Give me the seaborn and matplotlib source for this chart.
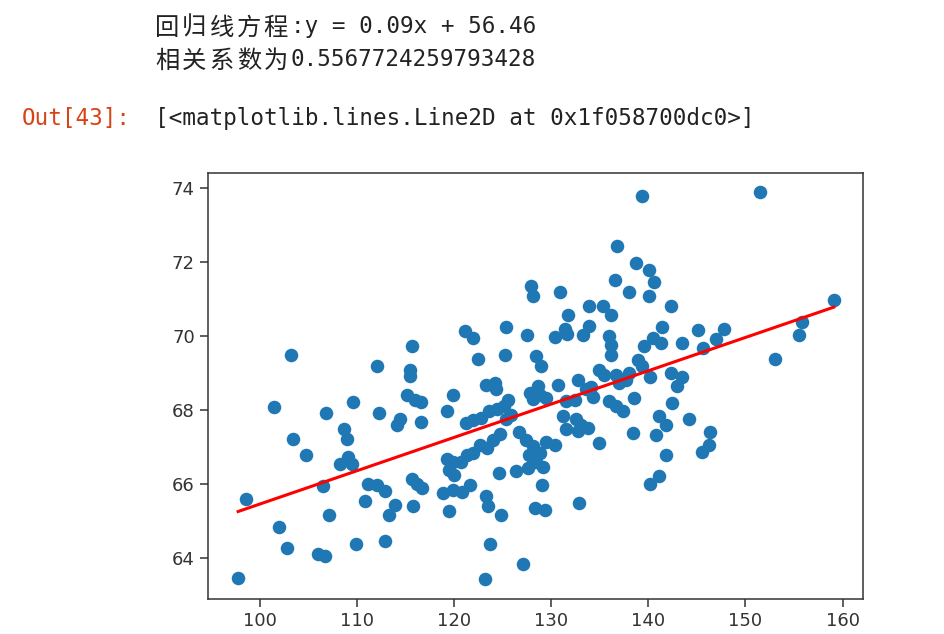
import numpy as np
import pandas as pd
import matplotlib
matplotlib.use("Agg")
import matplotlib.pyplot as plt
import seaborn as sns

# ---- data ----
x_left = [97.8, 98.6, 101.5, 102.0, 102.8, 103.25, 103.45, 104.8, 106.0, 106.7,
          106.5, 106.85, 107.1, 108.65, 109.0, 109.15, 108.25, 109.5, 109.6, 109.9,
          110.9, 111.2, 112.05, 112.9, 112.3, 112.9, 113.35, 113.9, 114.1, 114.5,
          115.2, 116.0, 116.6, 115.5, 115.5, 112.1, 115.7, 115.7, 116.2, 116.7,
          115.8, 116.6]
y_left = [63.48, 65.6, 68.08, 64.85, 64.27, 69.5, 67.23, 66.8, 64.11, 64.05,
          65.95, 67.91, 65.17, 67.49, 67.23, 66.74, 66.55, 66.55, 68.22, 64.38,
          65.54, 66.01, 65.97, 65.81, 67.91, 64.47, 65.17, 65.44, 67.61, 67.75,
          68.4, 68.28, 68.22, 68.91, 69.09, 69.18, 69.72, 66.13, 66.0, 65.9,
          65.41, 67.68]

x_midleft = [118.9, 119.3, 119.86, 121.13, 121.98, 122.5, 125.4, 125.3, 123.35, 124.2,
             124.38, 125.6, 121.2, 122.0, 122.8, 123.6, 124.4, 125.2, 125.4, 125.9,
             119.3, 119.9, 119.5, 120.0, 120.7, 121.4, 122.0, 122.7, 123.4, 124.0,
             124.7, 119.93, 120.8, 121.64, 119.55, 123.35, 123.5, 124.9, 124.68, 123.7,
             123.2, 127.1]
y_midleft = [65.77, 67.97, 68.42, 70.13, 69.95, 69.39, 70.23, 69.5, 68.69, 68.74,
             68.56, 68.27, 67.66, 67.72, 67.78, 67.98, 68.02, 68.12, 67.75, 67.88,
             66.67, 66.6, 66.38, 66.24, 66.6, 66.8, 66.85, 67.05, 66.98, 67.2,
             67.35, 65.84, 65.8, 65.97, 65.28, 65.68, 65.41, 65.18, 66.3, 64.38,
             63.43, 63.84]

x_mid = [127.97, 128.13, 130.9, 127.52, 130.4, 131.4, 131.6, 131.72, 128.4, 128.99,
         126.7, 127.4, 127.7, 128.1, 128.5, 128.85, 129.2, 129.5, 130.4, 129.1,
         126.43, 127.62, 128.31, 129.33, 127.8, 128.65, 128.82, 128.13, 129.5, 130.7,
         131.5, 132.5, 132.75, 133.6, 134.15, 134.3, 131.2, 131.56, 132.58, 133.1,
         133.77, 132.75, 134.97, 132.92]
y_mid = [71.36, 71.09, 71.19, 70.02, 69.98, 70.2, 70.06, 70.57, 69.45, 69.18,
         67.42, 67.2, 66.8, 67.03, 66.6, 66.85, 66.45, 67.14, 67.07, 65.99,
         66.35, 66.44, 65.37, 65.3, 68.47, 68.64, 68.42, 68.29, 68.33, 68.69,
         68.24, 68.26, 68.82, 68.56, 68.62, 68.35, 67.84, 67.48, 67.75, 67.61,
         67.52, 67.43, 67.12, 65.5]

x_right = [133.95, 135.3, 136.17, 133.27, 133.95, 136.0, 136.17, 136.17, 136.8, 138.7,
           136.6, 137.97, 139.4, 140.1, 140.6, 140.03, 142.3, 141.4, 140.44, 141.3,
           139.59, 143.5, 138.9, 139.4, 134.97, 135.5, 136.7, 137.0, 137.7, 138.0,
           140.2, 142.3, 143.5, 143.0, 138.56, 142.4, 141.1, 141.8, 144.2, 138.4,
           140.8, 146.4, 146.26, 145.57, 141.8, 141.1, 140.2, 136.0, 136.69, 137.36,
           145.07, 147.8, 147.0, 145.64, 151.5, 159.1, 155.8, 155.5, 153.0]
y_right = [70.82, 70.8, 70.56, 70.04, 70.26, 69.99, 69.77, 69.5, 72.42, 71.98,
           71.51, 71.19, 73.77, 71.79, 71.47, 71.09, 70.82, 70.25, 69.95, 69.81,
           69.72, 69.81, 69.36, 69.18, 69.09, 68.95, 68.95, 68.74, 68.82, 69.0,
           68.89, 69.0, 68.89, 68.64, 68.33, 68.2, 67.84, 67.61, 67.75, 67.39,
           67.34, 67.4, 67.07, 66.87, 66.8, 66.22, 66.01, 68.24, 68.1, 67.97,
           70.17, 70.19, 69.92, 69.67, 73.88, 70.98, 70.38, 70.04, 69.39]

slope = 0.09
intercept = 56.46
line1_cjk, line1_rest = "回归线方程", ":y = 0.09x + 56.46"
line2_cjk, line2_rest = "相关系数为", "0.5567724259793428"
out_prompt = "Out[43]:"
out_repr = "[<matplotlib.lines.Line2D at 0x1f058700dc0>]"

df = pd.DataFrame({
    "x": x_left + x_midleft + x_mid + x_right,
    "y": y_left + y_midleft + y_mid + y_right,
})

# ---- figure ----
fig = plt.figure(figsize=(9.45, 6.34), dpi=100)
mono = ["DejaVu Sans Mono", "Noto Sans CJK SC"]
cjk = ["Noto Sans CJK SC", "DejaVu Sans"]
txt_col = "#222222"
W, H = 945, 634


def put(px, py, s, fam, size, color=txt_col):
    fig.text(px / W, 1 - py / H, s, fontsize=size, family=fam,
             va="center", ha="left", color=color)


def put_cjk(px, py, s, size, step=27.2):
    for i, ch in enumerate(s):
        put(px + i * step, py, ch, cjk, size)


put_cjk(155, 28, line1_cjk, 17.5)
put(291, 27, line1_rest, mono, 16.3)
put_cjk(155, 61, line2_cjk, 17.5)
put(291, 60, line2_rest, mono, 16.3)
put(22, 118, out_prompt, mono, 16.3, color="#D84315")
put(155, 118, out_repr, mono, 16.3)

ax = fig.add_axes([208 / W, 1 - 599 / H, (863 - 208) / W, (599 - 173) / H])
sns.scatterplot(data=df, x="x", y="y", ax=ax, s=95, color="#1f77b4",
                linewidth=0, legend=False)
xs = np.array([df["x"].min(), df["x"].max()])
ax.plot(xs, slope * xs + intercept, color="red", lw=2.2)

ax.set_xlabel("")
ax.set_ylabel("")
ax.set_xticks([100, 110, 120, 130, 140, 150, 160])
ax.set_yticks([64, 66, 68, 70, 72, 74])
ax.set_xlim(94.7, 162.1)
ax.set_ylim(62.9, 74.4)
ax.tick_params(labelsize=13, length=6, width=1.1, colors="#333333")
for sp in ax.spines.values():
    sp.set_linewidth(1.1)
    sp.set_color("#333333")

fig.savefig("out.png", dpi=100)
